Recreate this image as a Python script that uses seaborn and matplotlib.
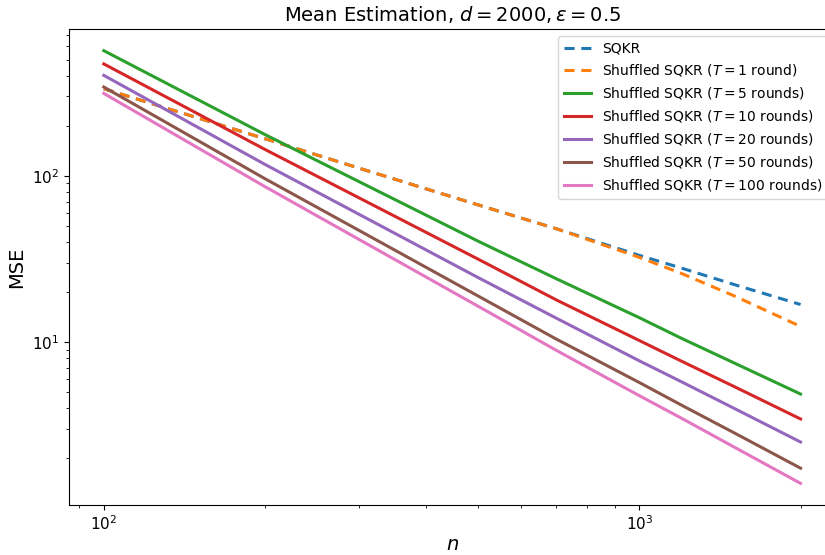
import numpy as np
import pandas as pd
import matplotlib
matplotlib.use("Agg")
import matplotlib.pyplot as plt
import seaborn as sns

# values (log-log plot)
n = [100, 200, 300, 500, 700, 1000, 1200, 1500, 2000]

sqkr = [334, 167, 111, 66.8, 48.0, 33.2, 27.8, 22.2, 16.8]
t1 = [334, 167, 111, 66.8, 48.0, 32.3, 25.8, 19.0, 12.4]
t5 = [566, 177, 92, 40.4, 24.0, 14.0, 10.5, 7.5, 4.86]
t10 = [471, 144, 73.5, 31.5, 17.9, 10.2, 7.65, 5.41, 3.44]
t20 = [402, 117, 58.5, 24.4, 13.9, 7.7, 5.75, 4.0, 2.50]
t50 = [342, 96, 46.8, 18.9, 10.4, 5.7, 4.16, 2.85, 1.74]
t100 = [313, 86, 41.3, 16.4, 8.9, 4.75, 3.47, 2.34, 1.41]

labels = ["SQKR",
          r"Shuffled SQKR ($T = 1$ round)",
          r"Shuffled SQKR ($T = 5$ rounds)",
          r"Shuffled SQKR ($T = 10$ rounds)",
          r"Shuffled SQKR ($T = 20$ rounds)",
          r"Shuffled SQKR ($T = 50$ rounds)",
          r"Shuffled SQKR ($T = 100$ rounds)"]
series = [sqkr, t1, t5, t10, t20, t50, t100]
dashed = [True, True, False, False, False, False, False]
colors = sns.color_palette("tab10")

fig = plt.figure(figsize=(8.25, 5.55), dpi=100)
ax = fig.add_axes([0.0836, 0.0901, 0.929, 0.8576])

for i, (lab, ys, d) in enumerate(zip(labels, series, dashed)):
    df = pd.DataFrame({"n": n, "mse": ys})
    kw = {"dashes": (3.3, 2.2)} if d else {}
    sns.lineplot(data=df, x="n", y="mse", ax=ax, color=colors[i],
                 linewidth=2.2, label=lab, **kw)

ax.set_xscale("log")
ax.set_yscale("log")
ax.set_title(r"Mean Estimation, $d = 2000, \varepsilon = 0.5$", fontsize=14)
ax.set_xlabel(r"$n$", fontsize=14, labelpad=1)
ax.set_ylabel("MSE", fontsize=14)
ax.tick_params(axis="both", which="major", labelsize=11)
ax.legend(loc="upper right", fontsize=10)

fig.savefig("out.png", dpi=100)
